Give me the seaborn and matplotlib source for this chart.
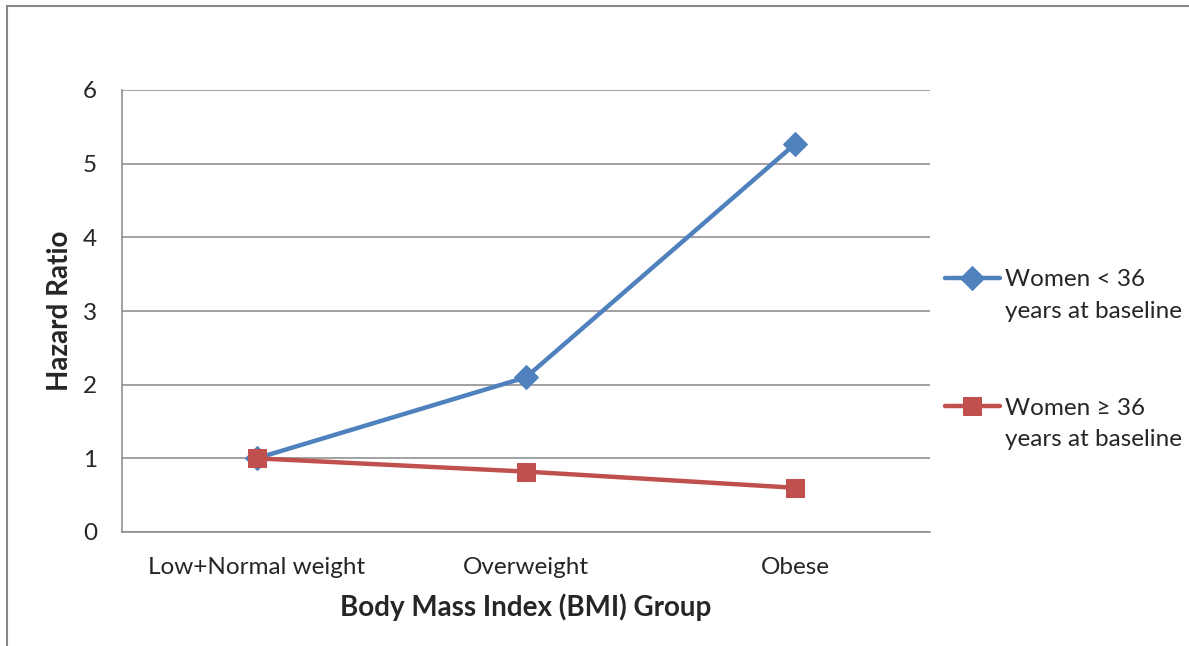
import numpy as np
import pandas as pd
import matplotlib
matplotlib.use("Agg")
import matplotlib.pyplot as plt
import seaborn as sns
from matplotlib.patches import Rectangle

categories = ["Low+Normal weight", "Overweight", "Obese"]
young = [1.0, 2.1, 5.27]
older = [1.0, 0.82, 0.6]
legend_first = ["Women < 36", "Women \u2265 36"]
legend_second = "years at baseline"
y_ticks = [0, 1, 2, 3, 4, 5, 6]

sns.set_style("white")
plt.rcParams["font.family"] = ["Lato", "DejaVu Sans"]

df = pd.DataFrame({"x": np.arange(len(categories)), "young": young, "older": older})

W, H = 1189, 646
fig = plt.figure(figsize=(W / 100, H / 100), dpi=100)
ax = fig.add_axes([122 / W, 1 - 532 / H, 808 / W, 442 / H])

grid_c = "#878787"
sns.lineplot(data=df, x="x", y="young", ax=ax, color="#4F81BD", lw=3.2,
             marker="D", markersize=12, markeredgecolor="#4F81BD", label=legend_first[0])
sns.lineplot(data=df, x="x", y="older", ax=ax, color="#C0504D", lw=3.2,
             marker="s", markersize=13, markeredgecolor="#C0504D", label=legend_first[1])

ax.set_xlim(-0.5, len(categories) - 0.5)
ax.set_ylim(0, 6)
ax.set_yticks(y_ticks)
ax.set_xticks(range(len(categories)))
ax.set_xticklabels(categories)
ax.set_xticks(np.arange(-0.5, len(categories)), minor=True)
ax.tick_params(axis="x", which="major", length=0, pad=18, labelsize=17.5)
ax.tick_params(axis="x", which="minor", length=6, width=1.1, color=grid_c, direction="out")
ax.tick_params(axis="y", length=6, width=1.1, color=grid_c, direction="out", pad=12, labelsize=17.5)
ax.yaxis.grid(True, color=grid_c, lw=1.1)
ax.set_axisbelow(True)
for s in ["top", "right"]:
    ax.spines[s].set_visible(False)
for s in ["left", "bottom"]:
    ax.spines[s].set_color(grid_c)
    ax.spines[s].set_linewidth(1.1)

ax.set_xlabel("Body Mass Index (BMI) Group", fontsize=20, fontweight="bold", va="center")
ax.set_ylabel("Hazard Ratio", fontsize=20, fontweight="bold", va="center")
ax.xaxis.set_label_coords(0.5, (532 - 607) / 442)
ax.yaxis.set_label_coords((60 - 122) / 808, 0.5)

ax.legend(loc="center left", bbox_to_anchor=(945 / W, 1 - 344 / H),
          bbox_transform=fig.transFigure, frameon=False, fontsize=17.5,
          handlelength=2.26, handletextpad=0.2, labelspacing=4.43,
          borderpad=0, borderaxespad=0)
for yc in [312, 440]:
    fig.text(1005 / W, 1 - yc / H, legend_second, fontsize=17.5, va="center", ha="left")

fig.patches.append(Rectangle((7 / W, -0.1), 1.2, 1.1 - 6 / H,
                             transform=fig.transFigure, fill=False,
                             edgecolor="#888888", lw=1.5))

fig.savefig("out.png", dpi=100)
